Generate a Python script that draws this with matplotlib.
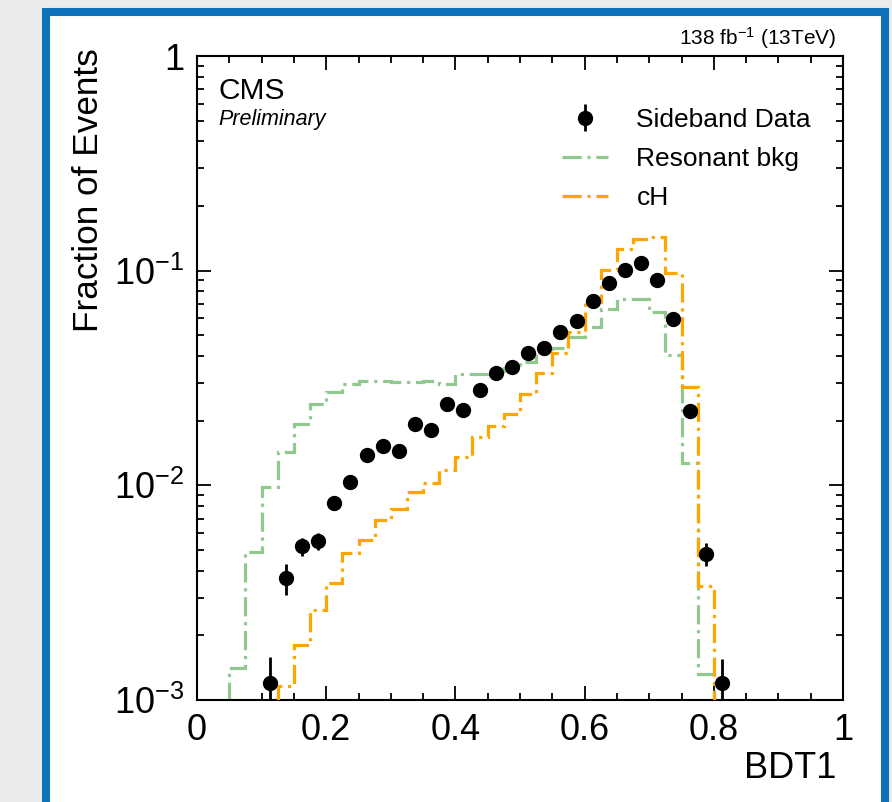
import numpy as np
import matplotlib
matplotlib.use('Agg')
import matplotlib.pyplot as plt
from matplotlib.patches import Rectangle
from matplotlib.lines import Line2D
from matplotlib.ticker import FixedLocator, FixedFormatter, MultipleLocator, LogLocator, NullFormatter

plt.rcParams['font.family'] = ['Liberation Sans', 'DejaVu Sans']
plt.rcParams['mathtext.fontset'] = 'custom'
plt.rcParams['mathtext.rm'] = 'Liberation Sans'
plt.rcParams['mathtext.it'] = 'Liberation Sans:italic'

# BDT1 binning (width 0.025)
data_centers = [0.1125, 0.1375, 0.1625, 0.1875, 0.2125, 0.2375, 0.2625, 0.2875, 0.3125, 0.3375,
                0.3625, 0.3875, 0.4125, 0.4375, 0.4625, 0.4875, 0.5125, 0.5375, 0.5625, 0.5875,
                0.6125, 0.6375, 0.6625, 0.6875, 0.7125, 0.7375, 0.7625, 0.7875, 0.8125]
data_values = [0.0012, 0.0037, 0.0052, 0.0055, 0.0083, 0.0104, 0.0139, 0.0153, 0.0145, 0.0193,
               0.0181, 0.0239, 0.0224, 0.0278, 0.0334, 0.0356, 0.0414, 0.0436, 0.0518, 0.0583,
               0.0723, 0.0877, 0.1007, 0.1086, 0.0905, 0.0596, 0.0222, 0.0048, 0.0012]
data_errors = [0.00038, 0.0006, 0.0005, 0.0005, 0.0006, 0.0007, 0.0008, 0.0008, 0.0008, 0.0009,
               0.0009, 0.001, 0.001, 0.0011, 0.0012, 0.0012, 0.0013, 0.0013, 0.0014, 0.0015,
               0.0017, 0.0018, 0.002, 0.002, 0.0019, 0.0015, 0.001, 0.0006, 0.00035]

resonant_edges = [0.05, 0.075, 0.1, 0.125, 0.15, 0.175, 0.2, 0.225, 0.25, 0.275, 0.3, 0.325,
                  0.35, 0.375, 0.4, 0.425, 0.45, 0.475, 0.5, 0.525, 0.55, 0.575, 0.6, 0.625,
                  0.65, 0.675, 0.7, 0.725, 0.75, 0.775, 0.8]
resonant_values = [0.00141, 0.0049, 0.0098, 0.0143, 0.0193, 0.0239, 0.0272, 0.0297, 0.0305, 0.0305,
                   0.0303, 0.0303, 0.0306, 0.0296, 0.0329, 0.0329, 0.034, 0.0352, 0.0376, 0.043,
                   0.0436, 0.049, 0.0547, 0.0663, 0.074, 0.074, 0.0644, 0.0405, 0.0127, 0.00132]

ch_edges = [0.125, 0.15, 0.175, 0.2, 0.225, 0.25, 0.275, 0.3, 0.325, 0.35, 0.375, 0.4, 0.425,
            0.45, 0.475, 0.5, 0.525, 0.55, 0.575, 0.6, 0.625, 0.65, 0.675, 0.7, 0.725, 0.75,
            0.775, 0.8]
ch_values = [0.00116, 0.0018, 0.00263, 0.0035, 0.00484, 0.00557, 0.0069, 0.00776, 0.0093, 0.0103,
             0.0118, 0.0136, 0.0168, 0.0189, 0.0215, 0.0267, 0.0334, 0.0414, 0.0518, 0.0715,
             0.1007, 0.126, 0.141, 0.143, 0.098, 0.0287, 0.0034]

x_ticks = [0, 0.2, 0.4, 0.6, 0.8, 1]
x_ticklabels = ['0', '0.2', '0.4', '0.6', '0.8', '1']
y_ticks = [1e-3, 1e-2, 1e-1, 1]
y_ticklabels = ['$10^{-3}$', '$10^{-2}$', '$10^{-1}$', '1']

GREEN = '#8fc98f'
ORANGE = '#ffa500'
DASHDOT = (0, (6, 1.8, 1, 1.8))


def draw_frame(fig):
    # slide-like frame around the plot
    W, H = 892, 802
    fig.patch.set_facecolor('#ebebeb')
    frame = Rectangle((46 / W, -0.05), (885 - 46) / W, 1.05 - 11.5 / H,
                      transform=fig.transFigure, facecolor='white', edgecolor='#0d72b9',
                      linewidth=5.8, zorder=-10)
    fig.patches.append(frame)


def plot_bdt(fig):
    ax = fig.add_axes([197 / 892, 1 - 700 / 802, 646 / 892, 644 / 802])
    ax.set_facecolor('none')

    ax.stairs(resonant_values, resonant_edges, baseline=1e-6, color=GREEN, linewidth=2.3,
              linestyle=DASHDOT, zorder=2)
    ax.stairs(ch_values, ch_edges, baseline=1e-6, color=ORANGE, linewidth=2.3,
              linestyle=DASHDOT, zorder=3)
    ax.errorbar(data_centers, data_values, yerr=data_errors, fmt='o', color='black',
                markersize=10, elinewidth=2, capsize=0, zorder=4)

    ax.set_yscale('log')
    ax.set_xlim(0, 1)
    ax.set_ylim(1e-3, 1)

    ax.xaxis.set_major_locator(FixedLocator(x_ticks))
    ax.xaxis.set_major_formatter(FixedFormatter(x_ticklabels))
    ax.xaxis.set_minor_locator(MultipleLocator(0.05))
    ax.yaxis.set_major_locator(FixedLocator(y_ticks))
    ax.yaxis.set_major_formatter(FixedFormatter(y_ticklabels))
    ax.yaxis.set_minor_locator(LogLocator(base=10, subs=np.arange(2, 10)))
    ax.yaxis.set_minor_formatter(NullFormatter())

    ax.tick_params(which='both', direction='in', top=True, right=True, width=1.3,
                   labelsize=26, pad=9)
    ax.tick_params(which='major', length=10)
    ax.tick_params(which='minor', length=5)
    for s in ax.spines.values():
        s.set_linewidth(1.5)

    ax.set_xlabel('BDT1', fontsize=26, ha='right')
    ax.xaxis.set_label_coords(0.99, -0.079, transform=ax.transAxes)
    ax.set_ylabel('Fraction of Events', fontsize=25.3, ha='right')
    ax.yaxis.set_label_coords(-0.142, 1.012, transform=ax.transAxes)

    ax.text(0.033, 0.968, 'CMS', transform=ax.transAxes, fontsize=21.5,
            va='top', ha='left')
    ax.text(0.033, 0.918, 'Preliminary', transform=ax.transAxes, fontsize=15.5, style='italic',
            va='top', ha='left')
    ax.text(0.99, 1.008, '138 fb$^{-1}$ (13TeV)', transform=ax.transAxes, fontsize=15,
            va='bottom', ha='right')

    handles = [
        ax.errorbar([], [], yerr=[], fmt='o', color='black', markersize=10, elinewidth=2),
        Line2D([], [], color=GREEN, linewidth=2.3, linestyle=DASHDOT),
        Line2D([], [], color=ORANGE, linewidth=2.3, linestyle=DASHDOT),
    ]
    ax.legend(handles, ['Sideband Data', 'Resonant bkg', 'cH'], loc='upper right',
              bbox_to_anchor=(0.971, 0.94), frameon=False, fontsize=19,
              handlelength=1.75, handletextpad=1.06, labelspacing=0.57, borderpad=0)
    return ax


fig = plt.figure(figsize=(8.92, 8.02), dpi=100)
draw_frame(fig)
plot_bdt(fig)
fig.savefig('out.png', dpi=100, facecolor=fig.get_facecolor())
